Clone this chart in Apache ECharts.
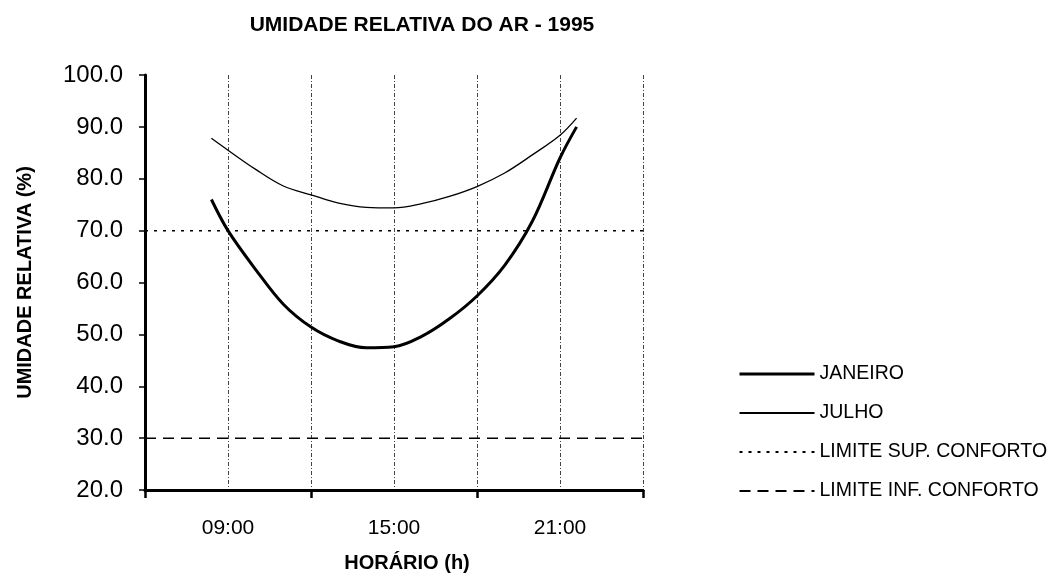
<!DOCTYPE html>
<html>
<head>
<meta charset="utf-8">
<script src="https://cdn.jsdelivr.net/npm/echarts@6/dist/echarts.min.js"></script>
<style>
  html, body { margin: 0; padding: 0; background: #fff; }
  #chart { width: 1050px; height: 578px; }
</style>
</head>
<body>
<div id="chart"></div>
<script>
// horas (eixo x em horas do dia)
const hours = [8.4, 9, 10, 11, 12, 13, 14, 15, 16, 17, 18, 19, 20, 21, 21.6]
const janeiro = [76, 70, 62.5, 55.8, 51.4, 48.7, 47.4, 47.6, 49.6, 53, 57.4, 63.3, 71.8, 84, 90]
const julho = [87.8, 85.5, 81.8, 78.6, 76.9, 75.3, 74.5, 74.4, 75.2, 76.6, 78.5, 81.1, 84.6, 88.4, 91.7]
const limiteSup = [[6, 70], [24, 70]]
const limiteInf = [[6, 30], [24, 30]]
const xLabelHours = [9, 15, 21]

const toPairs = (xs, ys) => xs.map((x, i) => [x, ys[i]])
const fmtHour = (h) => String(h).padStart(2, '0') + ':00'

const chart = echarts.init(document.getElementById('chart'))
const font = 'Liberation Sans, Arial, sans-serif'
const gridLine = { color: '#444', width: 1, type: [4, 2, 1, 2] }

const option = {
  animation: false,
  textStyle: { fontFamily: font, color: '#000' },
  title: {
    text: 'UMIDADE RELATIVA DO AR - 1995',
    left: 417,
    top: 10,
    textAlign: 'center',
    textStyle: { fontSize: 21, fontWeight: 'bold', color: '#000', fontFamily: font }
  },
  legend: {
    orient: 'vertical',
    left: 738,
    top: 364,
    padding: 0,
    itemWidth: 75,
    itemHeight: 20,
    itemGap: 19,
    itemStyle: { opacity: 0 },
    textStyle: { fontSize: 19.5, color: '#000', fontFamily: font },
    data: [
      { name: 'JANEIRO', lineStyle: { width: 3 } },
      { name: 'JULHO' },
      { name: 'LIMITE SUP. CONFORTO' },
      { name: 'LIMITE INF. CONFORTO' }
    ]
  },
  grid: { left: 145, right: 407, top: 75, bottom: 83 },
  xAxis: {
    type: 'value',
    min: 6,
    max: 24,
    interval: 6,
    name: 'HORÁRIO (h)',
    nameLocation: 'middle',
    nameGap: 63,
    nameTextStyle: { fontSize: 20, fontWeight: 'bold', color: '#000', padding: [0, 0, 0, 26] },
    axisLine: { lineStyle: { color: '#000', width: 3 } },
    axisTick: { length: 8, lineStyle: { color: '#000', width: 2.5 } },
    axisLabel: { fontSize: 21, color: '#000', margin: 28, customValues: xLabelHours, formatter: fmtHour },
    splitLine: { show: true, lineStyle: gridLine },
    minorTick: { show: false, splitNumber: 2 },
    minorSplitLine: { show: true, lineStyle: gridLine }
  },
  yAxis: {
    type: 'value',
    min: 20,
    max: 100,
    interval: 10,
    name: 'UMIDADE RELATIVA (%)',
    nameLocation: 'middle',
    nameGap: 110,
    nameTextStyle: { fontSize: 20, fontWeight: 'bold', color: '#000' },
    axisLine: { show: true, lineStyle: { color: '#000', width: 3 } },
    axisTick: { show: true, length: 6, lineStyle: { color: '#000', width: 1.5 } },
    axisLabel: { fontSize: 24, color: '#000', margin: 22, formatter: (v) => v.toFixed(1) },
    splitLine: { show: false }
  },
  series: [
    {
      name: 'JANEIRO',
      type: 'line',
      data: toPairs(hours, janeiro),
      smooth: 0.35,
      symbol: 'none',
      lineStyle: { color: '#000', width: 3 },
      itemStyle: { color: '#000' }
    },
    {
      name: 'JULHO',
      type: 'line',
      data: toPairs(hours, julho),
      smooth: 0.35,
      symbol: 'none',
      lineStyle: { color: '#000', width: 1.3 },
      itemStyle: { color: '#000' }
    },
    {
      name: 'LIMITE SUP. CONFORTO',
      type: 'line',
      data: limiteSup,
      symbol: 'none',
      lineStyle: { color: '#000', width: 1.5, type: [3, 6] },
      itemStyle: { color: '#000' }
    },
    {
      name: 'LIMITE INF. CONFORTO',
      type: 'line',
      data: limiteInf,
      symbol: 'none',
      lineStyle: { color: '#000', width: 1.5, type: [11, 7] },
      itemStyle: { color: '#000' }
    }
  ]
}
chart.setOption(option)
</script>
</body>
</html>
